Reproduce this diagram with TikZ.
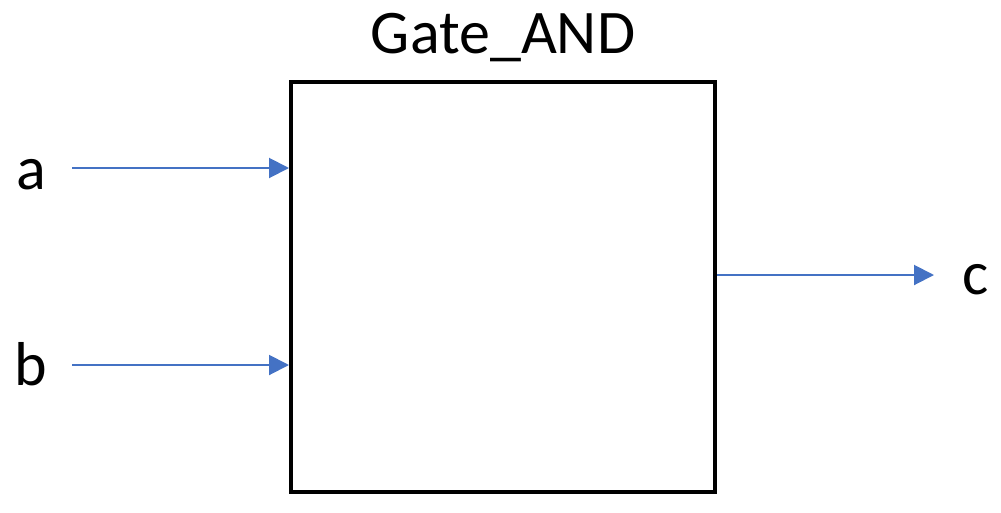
\documentclass[tikz,border=0pt]{standalone}
\usepackage{fontspec}
\setmainfont{Carlito}
\usetikzlibrary{arrows.meta}
\definecolor{arrblue}{HTML}{4472C4}
\begin{document}
\begin{tikzpicture}[x=1pt,y=-1pt,
  lbl/.style={inner sep=0pt,font=\fontsize{62}{70}\selectfont},
  sig/.style={draw=arrblue,line width=2pt,-{Triangle[length=20pt,width=20pt]}},
  gatebox/.style={draw=black,line width=4pt}]
\useasboundingbox (0,0) rectangle (1001,512);
\draw[gatebox] (291,82) rectangle (715,492);
\coordinate (ina) at (289,168);
\coordinate (inb) at (289,365);
\coordinate (outc) at (717,275);
\coordinate (enda) at (72,168);
\coordinate (endb) at (72,365);
\coordinate (endc) at (934,275);
\node[lbl,anchor=base] (title) at (503,53) {Gate\_AND};
\node[lbl,anchor=base] (la) at (31,189) {a};
\node[lbl,anchor=base] (lb) at (31,385) {b};
\node[lbl,anchor=base] (lc) at (976,294) {c};
\draw[sig] (enda) -- (ina);
\draw[sig] (endb) -- (inb);
\draw[sig] (outc) -- (endc);
\end{tikzpicture}
\end{document}
